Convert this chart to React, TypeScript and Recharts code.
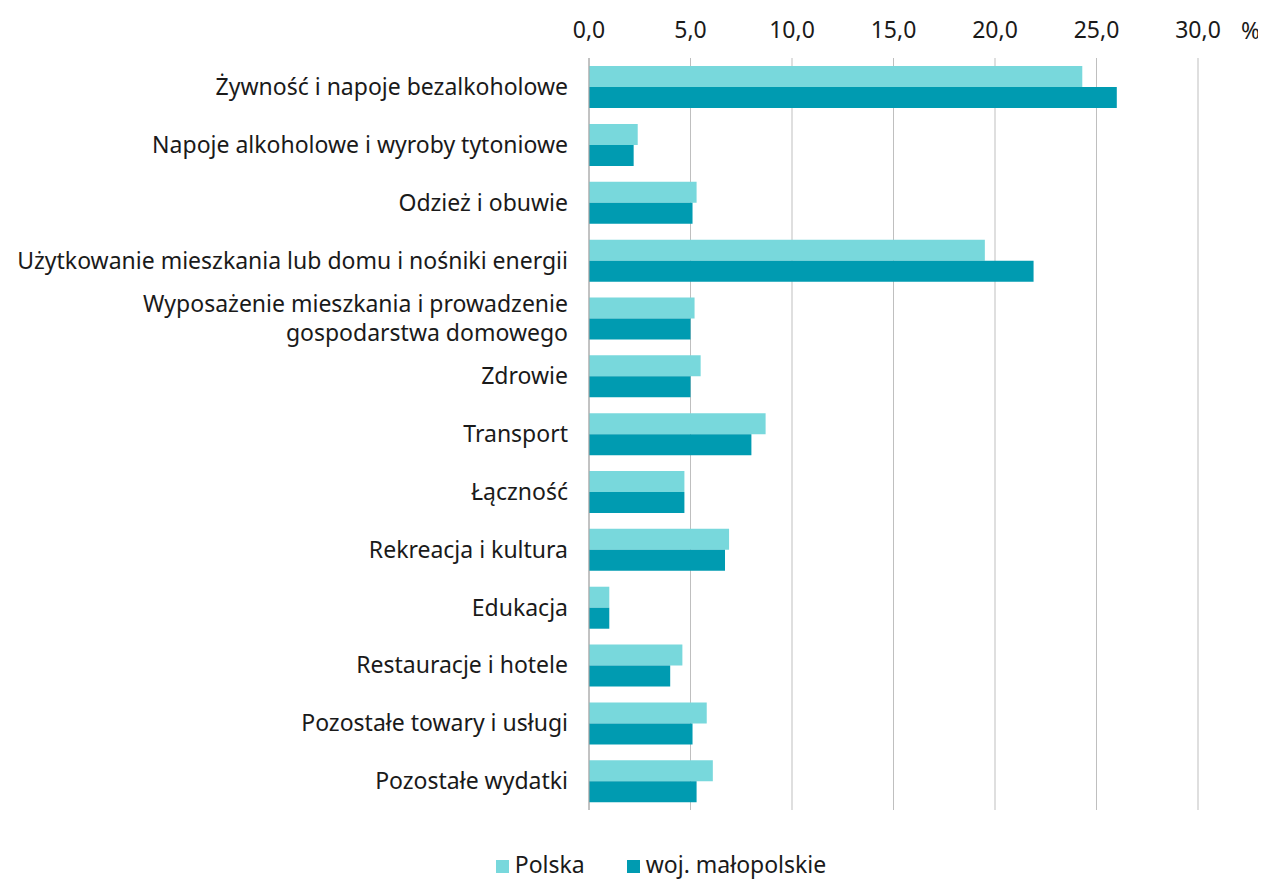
import React from 'react';
import {
  BarChart,
  Bar,
  XAxis,
  YAxis,
  CartesianGrid,
  Legend,
} from 'recharts';

const categories = [
  'Żywność i napoje bezalkoholowe',
  'Napoje alkoholowe i wyroby tytoniowe',
  'Odzież i obuwie',
  'Użytkowanie mieszkania lub domu i nośniki energii',
  'Wyposażenie mieszkania i prowadzenie\ngospodarstwa domowego',
  'Zdrowie',
  'Transport',
  'Łączność',
  'Rekreacja i kultura',
  'Edukacja',
  'Restauracje i hotele',
  'Pozostałe towary i usługi',
  'Pozostałe wydatki',
];

const polska = [24.3, 2.4, 5.3, 19.5, 5.2, 5.5, 8.7, 4.7, 6.9, 1.0, 4.6, 5.8, 6.1];
const malopolskie = [26.0, 2.2, 5.1, 21.9, 5.0, 5.0, 8.0, 4.7, 6.7, 1.0, 4.0, 5.1, 5.3];
const xTicks = [0, 5, 10, 15, 20, 25, 30];

const seriesNames = { polska: 'Polska', malopolskie: 'woj. małopolskie' };
const colors = { polska: '#78D8DC', malopolskie: '#009BB1' };

const data = categories.map((name, i) => ({
  name,
  polska: polska[i],
  malopolskie: malopolskie[i],
}));

const FONT = '"Noto Sans", sans-serif';
const FS = 23;

const CategoryTick = (props: any) => {
  const { x, y, payload } = props;
  const lines = String(payload.value).split('\n');
  const lh = 29;
  const y0 = y - ((lines.length - 1) * lh) / 2;
  return (
    <text x={x} y={y0} textAnchor="end" fill="#1a1a1a" fontSize={FS} fontFamily={FONT}>
      {lines.map((l, i) => (
        <tspan key={i} x={x} y={y0 + i * lh} dy="0.35em">
          {l}
        </tspan>
      ))}
    </text>
  );
};

const LegendContent = () => (
  <div
    style={{
      display: 'flex',
      justifyContent: 'center',
      gap: 42,
      paddingTop: 38,
      paddingLeft: 116,
      fontFamily: FONT,
      fontSize: FS,
      color: '#1a1a1a',
    }}
  >
    {(['polska', 'malopolskie'] as const).map((k) => (
      <div key={k} style={{ display: 'flex', alignItems: 'center' }}>
        <span style={{ display: 'inline-block', width: 13, height: 13, background: colors[k], marginRight: 6, marginTop: 4 }} />
        {seriesNames[k]}
      </div>
    ))}
  </div>
);

export default function App() {
  return (
    <div style={{ position: 'relative', width: 1258, height: 873 }}>
      <BarChart
        width={1258}
        height={873}
        data={data}
        layout="vertical"
        margin={{ top: 10, right: 68, bottom: 0, left: 0 }}
        barCategoryGap="14%"
        barGap={0}
      >
        <CartesianGrid horizontal={false} stroke="#BFBFBF" />
        <XAxis
          type="number"
          orientation="top"
          domain={[0, 30]}
          ticks={xTicks}
          height={40}
          axisLine={false}
          tickLine={false}
          tickMargin={14}
          tickFormatter={(v: number) => v.toFixed(1).replace('.', ',')}
          tick={{ fill: '#1a1a1a', fontSize: FS, fontFamily: FONT }}
        />
        <YAxis
          type="category"
          dataKey="name"
          width={581}
          axisLine={{ stroke: '#A6A6A6' }}
          tickLine={false}
          tickMargin={15}
          tick={<CategoryTick />}
          interval={0}
        />
        <Legend verticalAlign="bottom" height={71} content={<LegendContent />} />
        <Bar dataKey="polska" name={seriesNames.polska} fill={colors.polska} isAnimationActive={false} />
        <Bar dataKey="malopolskie" name={seriesNames.malopolskie} fill={colors.malopolskie} isAnimationActive={false} />
      </BarChart>
      <div
        style={{
          position: 'absolute',
          left: 1233,
          top: 6,
          whiteSpace: 'nowrap',
          fontFamily: FONT,
          fontSize: FS,
          color: '#1a1a1a',
        }}
      >
        %
      </div>
    </div>
  );
}
